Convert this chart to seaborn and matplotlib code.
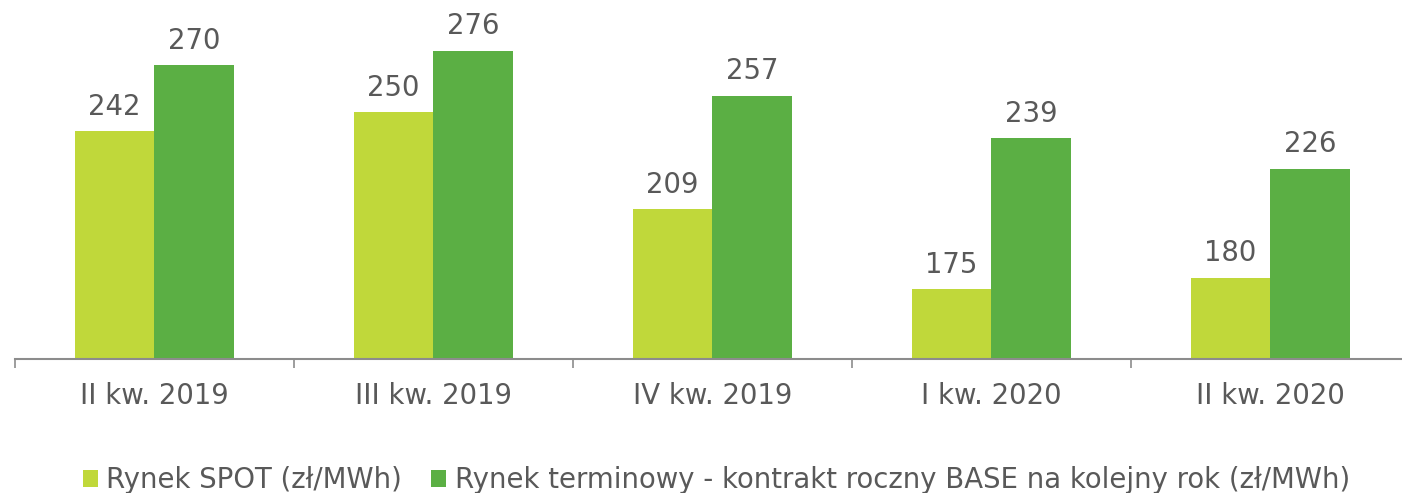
import pandas as pd
import matplotlib
matplotlib.use('Agg')
import matplotlib.pyplot as plt
import seaborn as sns

# data
quarters = ['II kw. 2019', 'III kw. 2019', 'IV kw. 2019', 'I kw. 2020', 'II kw. 2020']
spot = [242, 250, 209, 175, 180]
base = [270, 276, 257, 239, 226]
series_names = ['Rynek SPOT (zł/MWh)',
                'Rynek terminowy - kontrakt roczny BASE na kolejny rok (zł/MWh)']
colors = ['#C0D83A', '#5BAF44']

df = pd.DataFrame({
    'quarter': quarters * 2,
    'value': spot + base,
    'series': [series_names[0]] * len(quarters) + [series_names[1]] * len(quarters),
})

sns.set_theme(style='white')
plt.rcParams['font.family'] = ['DejaVu Sans']
text_gray = '#595959'
axis_gray = '#8C8C8C'
fs = 19.8

fig = plt.figure(figsize=(14.02, 4.93), dpi=100)
ax = fig.add_axes([15 / 1402, 134 / 493, 1395 / 1402, 359 / 493])

sns.barplot(data=df, x='quarter', y='value', hue='series', palette=colors,
            width=0.573, saturation=1, linewidth=0, ax=ax, legend=True)

for c in ax.containers:
    ax.bar_label(c, padding=7.5, fontsize=fs, color=text_gray)

ax.set_ylim(145.5, 297.5)
ax.set_xlim(-0.5, 4.5)
ax.set_xlabel('')
ax.set_ylabel('')
ax.set_yticks([])

for side in ['left', 'right', 'top']:
    ax.spines[side].set_visible(False)
ax.spines['bottom'].set_color(axis_gray)
ax.spines['bottom'].set_linewidth(1.5)

ax.set_xticks([i - 0.5 for i in range(6)], minor=True)
ax.tick_params(axis='x', which='minor', bottom=True, length=6.5, width=1.2, color=axis_gray)
ax.tick_params(axis='x', which='major', bottom=False, length=0, pad=16.5,
               labelsize=fs, labelcolor=text_gray)

handles, labels = ax.get_legend_handles_labels()
ax.get_legend().remove()
fig.legend(handles, labels, loc='center', bbox_to_anchor=(0.511, 13 / 493), ncol=2,
           frameon=False, fontsize=fs, labelcolor=text_gray,
           handlelength=0.55, handleheight=0.55, handletextpad=0.3,
           columnspacing=1.05, borderpad=0, borderaxespad=0)

fig.savefig('out.png', dpi=100)
